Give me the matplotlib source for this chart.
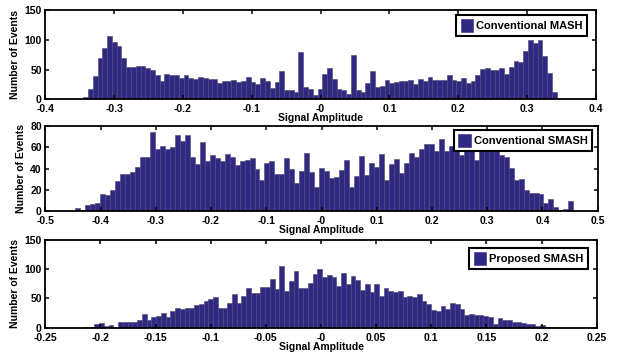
import matplotlib
matplotlib.use("Agg")
import matplotlib.pyplot as plt
import numpy as np
from matplotlib.ticker import FormatStrFormatter

plt.rcParams["font.family"] = ["Liberation Sans", "DejaVu Sans"]
plt.rcParams["font.weight"] = "bold"
plt.rcParams["axes.unicode_minus"] = False

# bin counts (left to right)
mash_counts = [4, 17, 39, 69, 87, 106, 96, 90, 70, 54, 54, 56, 56, 52, 50, 40, 30, 42, 40, 40,
               35, 41, 36, 34, 37, 35, 34, 34, 28, 30, 30, 32, 29, 31, 37, 29, 25, 36, 31, 19,
               29, 47, 16, 16, 12, 79, 21, 17, 8, 17, 42, 53, 34, 17, 15, 9, 74, 15, 13, 28,
               47, 21, 22, 33, 28, 29, 31, 31, 32, 26, 34, 31, 37, 33, 32, 32, 40, 32, 31, 35,
               27, 31, 41, 51, 52, 50, 50, 52, 42, 55, 65, 63, 81, 100, 94, 100, 72, 44, 12]
mash_range = (-0.345, 0.343)

smash_counts = [3, 1, 6, 7, 8, 16, 15, 20, 28, 35, 35, 37, 42, 51, 51, 74, 58, 61, 58, 60,
                72, 66, 72, 51, 44, 65, 47, 53, 50, 47, 54, 51, 43, 47, 48, 50, 40, 29, 45, 47,
                35, 35, 50, 40, 27, 38, 55, 37, 23, 41, 38, 31, 32, 39, 48, 23, 33, 52, 34, 45,
                42, 54, 29, 44, 49, 36, 45, 55, 51, 58, 63, 63, 57, 68, 57, 61, 71, 53, 62, 66,
                48, 60, 58, 60, 57, 53, 51, 41, 29, 30, 20, 17, 17, 16, 8, 12, 4, 1, 2, 10]
smash_range = (-0.446, 0.456)

proposed_counts = [2, 1, 6, 8, 3, 5, 2, 9, 9, 9, 9, 14, 23, 14, 19, 20, 25, 18, 28, 34,
                   32, 34, 33, 38, 41, 46, 49, 52, 33, 34, 42, 58, 42, 55, 68, 59, 60, 70, 70, 83,
                   66, 106, 62, 80, 97, 68, 68, 76, 92, 101, 86, 90, 86, 72, 94, 75, 89, 82, 65, 74,
                   61, 75, 55, 68, 63, 61, 63, 53, 55, 53, 57, 45, 41, 30, 29, 37, 32, 43, 40, 32,
                   22, 23, 21, 22, 20, 19, 7, 17, 14, 13, 9, 10, 8, 7, 6, 3, 5, 2, 2, 1]
proposed_range = (-0.214, 0.216)

labels = ["Conventional MASH", "Conventional SMASH", "Proposed SMASH"]
xlims = [(-0.4, 0.4), (-0.5, 0.5), (-0.25, 0.25)]
xticks = [np.arange(-0.4, 0.41, 0.1), np.arange(-0.5, 0.51, 0.1), np.arange(-0.25, 0.251, 0.05)]
ylims = [(0, 150), (0, 80), (0, 150)]
yticks = [[0, 50, 100, 150], [0, 20, 40, 60, 80], [0, 50, 100, 150]]

bar_color = "#2f2983"
W, H = 623, 362
# axes boxes in pixels: left, top, right, bottom
boxes = [(45.3, 10, 596, 99.3), (45.3, 126, 597.7, 211.3), (45.3, 240, 596.7, 327.7)]
legend_anchor = [(0.984, 0.944), (0.990, 0.953), (0.984, 0.909)]

fig = plt.figure(figsize=(W / 100, H / 100), dpi=100)

data = [(mash_counts, mash_range), (smash_counts, smash_range), (proposed_counts, proposed_range)]
for i, (counts, (lo, hi)) in enumerate(data):
    l, t, r, b = boxes[i]
    ax = fig.add_axes([l / W, 1 - b / H, (r - l) / W, (b - t) / H])
    edges = np.linspace(lo, hi, len(counts) + 1)
    ax.bar(edges[:-1], counts, width=np.diff(edges), align="edge", color=bar_color,
           edgecolor="#4a4870", linewidth=0.4, label=labels[i])
    ax.set_xlim(*xlims[i])
    ax.set_ylim(*ylims[i])
    ax.set_xticks(np.round(xticks[i], 3))
    ax.set_yticks(yticks[i])
    ax.xaxis.set_major_formatter(FormatStrFormatter("%g"))
    ax.tick_params(direction="in", top=True, right=True, length=3, width=1.1,
                   labelsize=7.5)
    ax.tick_params(axis="x", pad=3.5)
    ax.tick_params(axis="y", pad=2.5)
    for s in ax.spines.values():
        s.set_linewidth(1.3)
    ax.set_xlabel("Signal Amplitude", fontsize=7.5, fontweight="bold", labelpad=-0.5)
    ax.set_ylabel("Number of Events", fontsize=7.5, fontweight="bold", labelpad=3)
    leg = ax.legend(loc="upper right", bbox_to_anchor=legend_anchor[i], borderaxespad=0,
                    fancybox=False, framealpha=1, edgecolor="black", fontsize=8,
                    handlelength=1.15, handleheight=1.3, handletextpad=0.25,
                    borderpad=0.4)
    leg.get_frame().set_linewidth(1.5)
    for p in leg.get_patches():
        p.set_edgecolor(bar_color)

fig.savefig("out.png", dpi=100)
